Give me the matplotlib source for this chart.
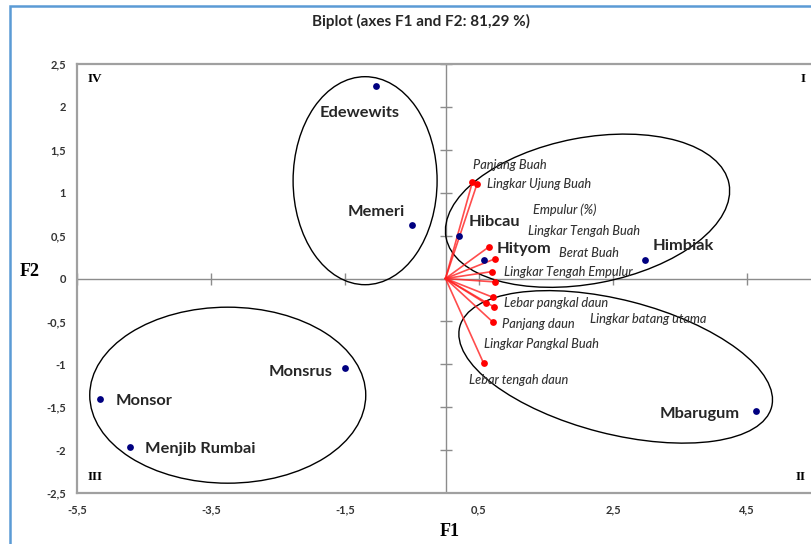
"""
Biplot of the first two principal components (F1 and F2) for sago
accessions and the measured morphological traits.
"""

import matplotlib
matplotlib.use("Agg")
import matplotlib.pyplot as plt
from matplotlib.patches import Ellipse, Rectangle
from matplotlib.transforms import Affine2D
from matplotlib.ticker import FuncFormatter

# ---------------------------------------------------------------------------
# Data
# ---------------------------------------------------------------------------

# accessions (observations)
obs_names = ["Edewewits", "Memeri", "Hibcau", "Hityom", "Himbiak",
             "Mbarugum", "Monsrus", "Monsor", "Menjib Rumbai"]
obs_f1 = [-1.04, -0.50, 0.20, 0.57, 2.98, 4.63, -1.50, -5.16, -4.71]
obs_f2 = [2.24, 0.62, 0.49, 0.22, 0.21, -1.54, -1.04, -1.41, -1.96]

# traits (variables)
var_names = ["Panjang Buah", "Lingkar Ujung Buah", "Empulur (%)",
             "Lingkar Tengah Buah", "Berat Buah", "Lingkar Tengah Empulur",
             "Lebar pangkal daun", "Lingkar batang utama", "Panjang daun",
             "Lingkar Pangkal Buah", "Lebar tengah daun"]
var_f1 = [0.40, 0.47, 0.65, 0.74, 0.69, 0.74, 0.71, 0.72, 0.71, 0.60, 0.57]
var_f2 = [1.12, 1.10, 0.37, 0.23, 0.08, -0.04, -0.22, -0.33, -0.51, -0.29, -0.99]

x_ticks = [-5.5, -3.5, -1.5, 0.5, 2.5, 4.5]
y_ticks = [-2.5, -2, -1.5, -1, -0.5, 0, 0.5, 1, 1.5, 2, 2.5]
quadrants = ["I", "II", "III", "IV"]

# ---------------------------------------------------------------------------
# Layout (label placement, in pixels / data units)
# ---------------------------------------------------------------------------

# label offsets for accessions: (dx, dy, ha)
obs_label_off = [(-16, -27, "center"), (-7, 13, "right"), (10, 14, "left"),
                 (13, 11, "left"), (7, 14, "left"), (-16, -3, "right"),
                 (-13, -4, "right"), (16, -2, "left"), (15, -2, "left")]

# text anchor (left, centre) for the trait labels
var_label_xy = [(0.41, 1.32), (0.62, 1.10), (1.31, 0.80), (1.23, 0.55),
                (1.69, 0.30), (0.88, 0.08), (0.88, -0.29), (2.16, -0.47),
                (0.84, -0.53), (0.57, -0.76), (0.35, -1.18)]

# groups: centre (data), half axes (px), rotation (deg)
groups = [
    ((-1.20, 1.14), 72, 104, 0),
    ((2.12, 0.79), 144, 73, 10.8),
    ((-3.25, -1.36), 138, 88, 0),
    ((2.54, -1.03), 161, 67, -14.4),
]

SANS = ["Lato", "DejaVu Sans"]
SERIF = ["Liberation Serif", "DejaVu Serif"]

# ---------------------------------------------------------------------------
# Figure
# ---------------------------------------------------------------------------

W, H = 811, 544
fig = plt.figure(figsize=(W / 100, H / 100), dpi=100)

# outer chart border
fig.patches.append(Rectangle((10 / W, -0.05), 1.2, 1 - 6 / H + 0.05,
                             transform=fig.transFigure, fill=False,
                             edgecolor="#5B9BD5", linewidth=1.8))

ax_left, ax_top, ax_bottom = 77, 64, 493
ax_w = 67 * 11.0
ax = fig.add_axes([ax_left / W, (H - ax_bottom) / H, ax_w / W,
                   (ax_bottom - ax_top) / H])
ax.set_xlim(-5.5, 5.5)
ax.set_ylim(-2.5, 2.5)

for s in ax.spines.values():
    s.set_color("#A0A0A0")
    s.set_linewidth(1.6)

fmt = FuncFormatter(lambda v, p: f"{v:g}".replace(".", ","))
ax.set_xticks(x_ticks)
ax.set_yticks(y_ticks)
ax.xaxis.set_major_formatter(fmt)
ax.yaxis.set_major_formatter(fmt)
ax.tick_params(length=0, pad=8, labelsize=8, labelcolor="#333333")
for lbl in ax.get_xticklabels() + ax.get_yticklabels():
    lbl.set_family(SANS)
    lbl.set_fontweight("bold")

# axes through the origin with their own small ticks
ax.axhline(0, color="#8C8C8C", linewidth=1.0, zorder=1)
ax.axvline(0, color="#8C8C8C", linewidth=1.0, zorder=1)
ax.plot(x_ticks, [0] * len(x_ticks), ls="none", marker="|",
        markersize=8, color="#8C8C8C", zorder=1)
ax.plot([0] * len(y_ticks), y_ticks, ls="none", marker="_",
        markersize=8, color="#8C8C8C", zorder=1)

# group ellipses, defined in pixel space so the tilt is not sheared
sx = 11.0 / ax_w
sy = 5.0 / (ax_bottom - ax_top)
for (cx, cy), a, b, ang in groups:
    e = Ellipse((0, 0), 2 * a, 2 * b, angle=ang, fill=False,
                edgecolor="black", linewidth=1.0, zorder=2)
    e.set_transform(Affine2D().scale(sx, sy).translate(cx, cy) + ax.transData)
    ax.add_patch(e)

# trait vectors
for fx, fy in zip(var_f1, var_f2):
    ax.plot([0, fx], [0, fy], color="#FF2020", linewidth=1.2, alpha=0.8,
            zorder=3)
ax.scatter(var_f1, var_f2, s=24, color="#FF0000", zorder=4, linewidths=0)
for name, (tx, ty) in zip(var_names, var_label_xy):
    ax.text(tx, ty, name, fontsize=9.2, style="italic", family=SANS,
            fontweight="medium", color="#333333", ha="left", va="center",
            zorder=5)

# accessions
ax.scatter(obs_f1, obs_f2, s=24, color="#000080", zorder=4, linewidths=0)
for name, x, y, (dx, dy, ha) in zip(obs_names, obs_f1, obs_f2, obs_label_off):
    ax.annotate(name, (x, y), xytext=(dx, dy), textcoords="offset pixels",
                ha=ha, va="center", fontsize=11.8, fontweight="bold",
                family=SANS, color="#262626", zorder=5)

# quadrant numbers
quad_pos = [(0.993, 0.965, "right"), (0.993, 0.038, "right"),
            (0.014, 0.038, "left"), (0.014, 0.965, "left")]
for q, (qx, qy, ha) in zip(quadrants, quad_pos):
    ax.text(qx * 734 / ax_w, qy, q, transform=ax.transAxes, ha=ha,
            va="center", fontsize=9.5, fontweight="bold", family=SERIF)

fig.text(421 / W, 1 - 21 / H, "Biplot (axes F1 and F2: 81,29 %)",
         ha="center", va="center", fontsize=11, fontweight="bold",
         family=SANS, color="#262626")
fig.text(450 / W, 1 - 532 / H, "F1", ha="center", va="center",
         fontsize=13, fontweight="bold", family=SERIF)
fig.text(30 / W, 1 - 272 / H, "F2", ha="center", va="center",
         fontsize=13, fontweight="bold", family=SERIF)

fig.savefig("out.png", dpi=100)
